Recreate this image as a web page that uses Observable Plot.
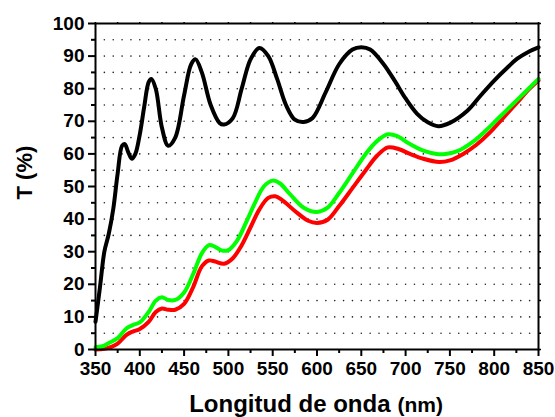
<!DOCTYPE html>
<html>
<head>
<meta charset="utf-8">
<script src="https://cdn.jsdelivr.net/npm/d3@7"></script>
<script src="https://cdn.jsdelivr.net/npm/@observablehq/plot@0.6"></script>
<style>
  html, body { margin: 0; padding: 0; background: #fff; }
  #chart svg { display: block; font-family: "Liberation Sans", Arial, sans-serif; font-weight: bold; }
</style>
</head>
<body>
<div id="chart"></div>
<script>
// Wavelength (nm) and transmittance (%)
const blackNm = [350,355,360,365,370,375,380,383,387,391,395,400,405,410,413,418,425,432,440,450,458,463,470,480,490,495,505,515,525,535,545,555,565,575,585,595,610,625,640,650,660,675,688,700,713,725,737,750,770,785,800,815,826,840,850];
const blackT  = [8.5,19,30,35.5,43,54,62.5,63,60.5,58.5,60,66,74.5,82,83,80,68,62.5,65,78,87.5,89,85,75,69.5,69,71,80,89,92.5,90,83,75,70.5,69.8,71,79,87.5,92,92.7,92,87.6,82.3,77,72.3,69.7,68.5,69.5,73.3,78,82.5,86.5,89.2,91.5,92.7];

const greenNm = [350,358,365,375,385,392,400,410,418,425,432,440,450,460,470,478,485,492,500,510,520,530,540,550,558,570,585,600,612,625,640,655,668,680,690,705,720,735,745,760,775,790,805,820,835,850];
const greenT  = [0.7,1.0,2,3.5,6.5,7.5,8.3,11.5,15,16,15.2,15.2,17.5,23,29.5,32,31.5,30.4,30.5,33.5,39,45,50,51.8,51,47.5,43.5,42.2,43.5,48,54,60,64,66,65.5,63,61,60,60,61,63.5,67,71,75,79,83];

const redNm = [350,360,368,375,385,392,400,410,418,425,432,440,450,460,470,478,485,495,505,515,525,535,545,553,560,575,590,600,612,625,640,655,668,680,692,705,720,738,750,765,780,795,810,825,840,850];
const redT  = [0,0.2,0.8,1.8,4.5,5.5,6.3,8.5,11.5,12.6,12.2,12.2,14,19,25.5,27.3,27,26.3,28,32,37.5,43,46.5,47,46,42.5,39.5,38.8,39.8,44,49.5,55,59.5,62,61.5,60,58.5,57.5,58,60,62.8,66.5,71,75.5,80,82.5];

const xMajor = [350,400,450,500,550,600,650,700,750,800,850];
const xMinor = [375,425,475,525,575,625,675,725,775,825];
const yMajor = [0,10,20,30,40,50,60,70,80,90,100];
const yMinor = [5,15,25,35,45,55,65,75,85,95];
const gridXs = d3.range(360, 850, 10);
const gridYs = d3.range(5, 100, 5);

const xTitle = "Longitud de onda";
const xUnit = "(nm)";
const yTitle = "T (%)";

const toRows = (xs, ys) => xs.map((x, i) => ({x, y: ys[i]}));
const black = toRows(blackNm, blackT);
const green = toRows(greenNm, greenT);
const red = toRows(redNm, redT);
const grid = d3.cross(gridXs, gridYs).map(([x, y]) => ({x, y}));

const chart = Plot.plot({
  width: 555,
  height: 417,
  marginLeft: 95,
  marginRight: 17,
  marginTop: 23,
  marginBottom: 68,
  x: {domain: [350, 850]},
  y: {domain: [0, 100]},
  marks: [
    Plot.dot(grid, {x: "x", y: "y", r: 0.8, fill: "#222", stroke: null}),
    Plot.line(red, {x: "x", y: "y", stroke: "#ff0000", strokeWidth: 4, curve: "catmull-rom"}),
    Plot.line(green, {x: "x", y: "y", stroke: "#00ff00", strokeWidth: 4, curve: "catmull-rom"}),
    Plot.line(black, {x: "x", y: "y", stroke: "#000", strokeWidth: 4, curve: "catmull-rom"}),
    Plot.frame({stroke: "#000", strokeWidth: 2}),
    Plot.axisX(xMajor, {tickSize: 7, tickPadding: 5, strokeWidth: 2, fontSize: 19, fontWeight: "bold", fill: "#000", tickFormat: d => String(d), label: null}),
    Plot.axisX(xMinor, {tickSize: 4, strokeWidth: 2, tickFormat: () => "", label: null}),
    Plot.axisX(xMajor.concat(xMinor), {anchor: "top", tickSize: 2, strokeWidth: 1.5, tickFormat: () => "", label: null}),
    Plot.axisY(yMajor, {tickSize: 7, tickPadding: 4, strokeWidth: 2, fontSize: 19, fontWeight: "bold", fill: "#000", tickFormat: d => String(d), label: null}),
    Plot.axisY(yMinor, {tickSize: 4, strokeWidth: 2, tickFormat: () => "", label: null}),
    Plot.axisY(yMajor.concat(yMinor), {anchor: "right", tickSize: 2, strokeWidth: 1.5, tickFormat: () => "", label: null}),
    Plot.text([xTitle], {frameAnchor: "bottom-left", dx: 295, dy: 62, textAnchor: "end", lineAnchor: "bottom", fontSize: 24, fontWeight: "bold", fill: "#000"}),
    Plot.text([xUnit], {frameAnchor: "bottom-left", dx: 302, dy: 62, textAnchor: "start", lineAnchor: "bottom", fontSize: 21, fontWeight: "bold", fill: "#000"}),
    Plot.text([yTitle], {frameAnchor: "left", dx: -71, dy: 13, rotate: -90, fontSize: 22, fontWeight: "bold", fill: "#000"})
  ]
});
document.getElementById("chart").appendChild(chart);
</script>
</body>
</html>
